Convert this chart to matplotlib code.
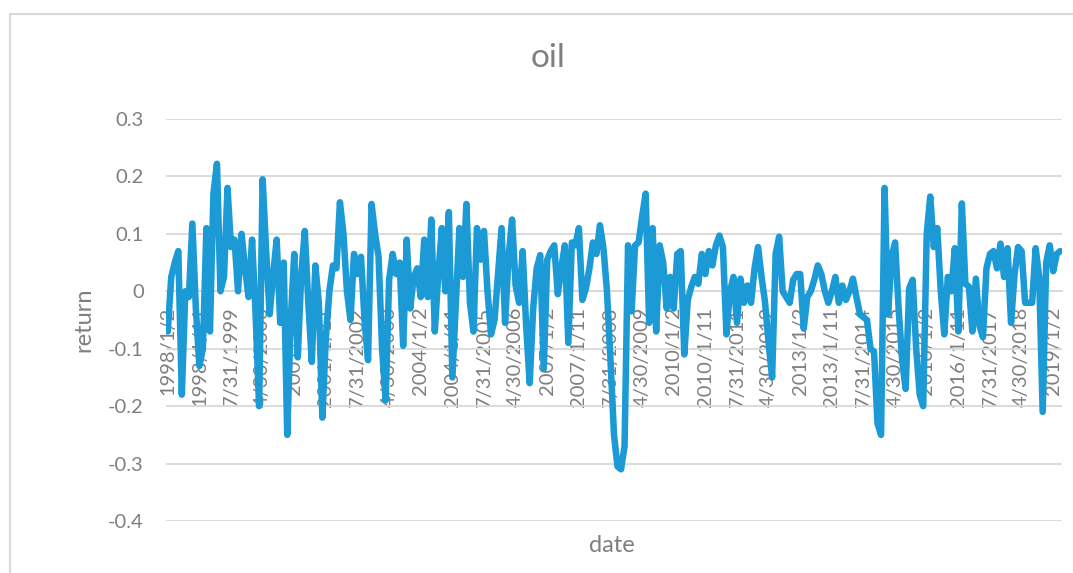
import matplotlib
matplotlib.use("Agg")
import matplotlib.pyplot as plt
from matplotlib.lines import Line2D
import numpy as np

# monthly oil returns (255 points)
returns = [
    -0.07, 0.025, 0.05, 0.07, -0.18, 0.0, -0.01, 0.118, -0.03, -0.13,
    -0.10, 0.11, -0.07, 0.17, 0.222, 0.0, 0.025, 0.18, 0.077, 0.09,
    0.0, 0.10, 0.04, -0.01, 0.09, -0.04, -0.2, 0.195, 0.07, -0.04,
    0.03, 0.09, -0.055, 0.05, -0.25, -0.05, 0.065, -0.115, 0.03, 0.105,
    -0.02, -0.123, 0.045, -0.02, -0.22, -0.08, 0.0, 0.045, 0.04, 0.155,
    0.1, 0.0, -0.05, 0.065, 0.03, 0.06, -0.05, -0.12, 0.152, 0.1,
    0.06, -0.1, -0.19, 0.02, 0.065, 0.03, 0.05, -0.095, 0.09, -0.03,
    0.025, 0.04, -0.01, 0.09, -0.01, 0.125, -0.07, 0.03, 0.11, 0.0,
    0.138, -0.15, -0.02, 0.11, 0.025, 0.152, -0.02, -0.07, 0.11, 0.055,
    0.105, 0.0, -0.075, -0.05, 0.03, 0.11, -0.055, 0.06, 0.125, 0.01,
    -0.02, 0.07, -0.06, -0.16, -0.03, 0.04, 0.063, -0.135, 0.055, 0.07,
    0.08, -0.005, 0.04, 0.08, -0.09, 0.085, 0.08, 0.11, -0.015, 0.005,
    0.04, 0.085, 0.065, 0.115, 0.075, 0.0, -0.12, -0.25, -0.305, -0.31,
    -0.27, 0.08, -0.035, 0.08, 0.085, 0.13, 0.17, -0.055, 0.11, -0.07,
    0.08, 0.05, -0.03, 0.025, -0.03, 0.065, 0.07, -0.11, -0.015, 0.008,
    0.025, 0.013, 0.065, 0.03, 0.07, 0.045, 0.08, 0.097, 0.077, -0.075,
    0.0, 0.025, -0.055, 0.022, -0.02, 0.01, -0.02, 0.04, 0.077, 0.025,
    -0.02, -0.09, -0.15, 0.065, 0.095, 0.0, -0.01, -0.02, 0.02, 0.03,
    0.03, -0.065, -0.01, 0.0, 0.02, 0.045, 0.03, 0.0, -0.02, 0.0,
    0.025, -0.02, 0.01, -0.015, 0.0, 0.022, -0.01, -0.04, -0.045, -0.05,
    -0.1, -0.105, -0.23, -0.25, 0.18, -0.04, 0.06, 0.085, -0.03, -0.12,
    -0.17, 0.005, 0.02, -0.1, -0.18, -0.2, 0.1, 0.165, 0.077, 0.11,
    0.0, -0.075, 0.025, 0.0, 0.075, -0.07, 0.153, 0.013, 0.008, -0.07,
    0.022, -0.06, -0.08, 0.04, 0.065, 0.07, 0.04, 0.083, 0.025, 0.075,
    -0.055, 0.03, 0.077, 0.07, -0.02, -0.02, -0.02, 0.075, 0.025, -0.21,
    0.05, 0.08, 0.035, 0.065, 0.07,
]

# category labels shown every 9th month
date_labels = [
    "1998/1/2", "1998/1/11", "7/31/1999", "4/30/2000", "2001/1/2", "2001/1/11",
    "7/31/2002", "4/30/2003", "2004/1/2", "2004/1/11", "7/31/2005", "4/30/2006",
    "2007/1/2", "2007/1/11", "7/31/2008", "4/30/2009", "2010/1/2", "2010/1/11",
    "7/31/2011", "4/30/2012", "2013/1/2", "2013/1/11", "7/31/2014", "4/30/2015",
    "2016/1/2", "2016/1/11", "7/31/2017", "4/30/2018", "2019/1/2",
]
label_step = 9
y_ticks = [-0.4, -0.3, -0.2, -0.1, 0, 0.1, 0.2, 0.3]

plt.rcParams['font.family'] = ['Lato', 'DejaVu Sans']
plt.rcParams['axes.unicode_minus'] = False

text_grey = '#7f7f7f'
grid_grey = '#d9d9d9'
blue = '#1b9ad6'

fig = plt.figure(figsize=(10.73, 5.73), dpi=100)
ax = fig.add_axes([166 / 1073, 1 - 521 / 573, 896 / 1073, 402 / 573])

# axis line sits on zero, like Excel; do this before the ticks (it resets them)
for s in ['top', 'right', 'left']:
    ax.spines[s].set_visible(False)
ax.spines['bottom'].set_position(('data', 0))
ax.spines['bottom'].set_color(grid_grey)
ax.spines['bottom'].set_linewidth(1.3)

x = np.arange(len(returns))
ax.plot(x, returns, color=blue, lw=4.7, solid_joinstyle='round', solid_capstyle='round', zorder=3)

ax.set_xlim(-0.5, len(returns) - 0.5)
ax.set_ylim(-0.4, 0.3)
ax.set_yticks(y_ticks)
ax.set_yticklabels(['%g' % v for v in y_ticks])
ax.yaxis.grid(True, color=grid_grey, lw=1.3)

ax.set_xticks(x[::label_step][:len(date_labels)])
ax.set_xticklabels(date_labels)

ax.tick_params(axis='y', length=0, pad=16, labelsize=14.5, labelcolor=text_grey)
ax.tick_params(axis='x', length=0, pad=11, labelsize=14.5, labelcolor=text_grey, labelrotation=90)

fig.text(548 / 1073, 1 - 58 / 573, 'oil', ha='center', va='center', fontsize=24, color=text_grey)
fig.text(84 / 1073, 1 - 320 / 573, 'return', ha='center', va='center', rotation=90, fontsize=17, color=text_grey)
fig.text(612 / 1073, 1 - 545 / 573, 'date', ha='center', va='center', fontsize=17, color=text_grey)

# chart area border (left and top edges visible)
fig.add_artist(Line2D([10 / 1073, 10 / 1073], [0, 1 - 14 / 573], transform=fig.transFigure, color=grid_grey, lw=1.5))
fig.add_artist(Line2D([10 / 1073, 1], [1 - 14 / 573, 1 - 14 / 573], transform=fig.transFigure, color=grid_grey, lw=1.5))

fig.savefig('out.png', dpi=100)
